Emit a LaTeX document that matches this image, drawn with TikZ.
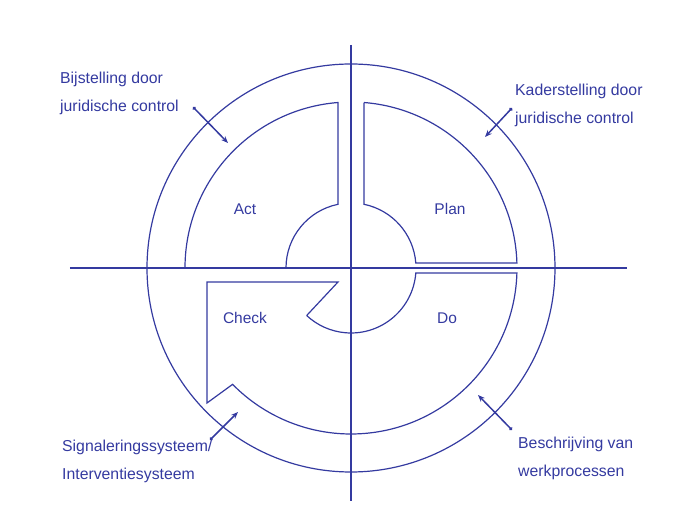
\documentclass[tikz,border=0pt]{standalone}
\usepackage{fontspec}
\setmainfont{Liberation Sans}
\usetikzlibrary{arrows.meta, calc}
\definecolor{ink}{RGB}{52,58,160}

\begin{document}
\begin{tikzpicture}[x=1pt, y=1pt, >=Stealth,
    ring/.style={draw=ink, line width=1.2pt},
    axis/.style={draw=ink, line width=1.7pt},
    note/.style={font=\fontsize{15.8}{28}\selectfont, text=ink, align=left,
                 anchor=north west, inner sep=0pt},
    quad/.style={font=\fontsize{15.5}{17}\selectfont, text=ink},
    pointer/.style={draw=ink, line width=1.5pt,
                    {Circle[length=3.5pt]}-{Stealth[length=7pt, width=5.5pt]}}]
  \useasboundingbox (-351,-250) rectangle (332,268);
  \coordinate (c) at (0,0);

  % Axes
  \draw[axis] (-281,0) -- (276,0);
  \draw[axis] (0,223) -- (0,-233);

  % Outer circle
  \draw[ring] (c) circle[radius=204];

  % Act
  \draw[ring] (180:166) arc[start angle=180, end angle=94.5, radius=166]
    -- (101.5:65) arc[start angle=101.5, end angle=180, radius=65];

  % Plan
  \draw[ring] (85.5:166) -- (78.5:65) arc[start angle=78.5, end angle=4.4, radius=65]
    -- (1.7:166) arc[start angle=1.7, end angle=85.5, radius=166];

  % Do
  \draw[ring] (-90:166) arc[start angle=-90, end angle=-1.7, radius=166]
    -- (-4.4:65) arc[start angle=-4.4, end angle=-133, radius=65];

  % Check
  \draw[ring] (-133:65) -- (-13,-14) -- (-144,-14) -- (-144,-135)
    -- (-135.5:166) arc[start angle=-135.5, end angle=-90, radius=166];

  % Quadrant labels
  \node[quad] (act) at (-106,59) {Act};
  \node[quad] (plan) at (99,59) {Plan};
  \node[quad] (check) at (-106,-50) {Check};
  \node[quad] (do) at (96,-50) {Do};

  % Notes
  \node[note] (bijst) at (-291,196) {Bijstelling door\\juridische control};
  \node[note] (kader) at (164,184) {Kaderstelling door\\juridische control};
  \node[note] (signal) at (-289,-172) {Signaleringssysteem/\\Interventiesysteem};
  \node[note] (beschr) at (167,-169) {Beschrijving van\\werkprocessen};

  \coordinate (bijstTail) at (-158,161);
  \coordinate (bijstHead) at (-123,125);
  \coordinate (kaderTail) at (161,160);
  \coordinate (kaderHead) at (134,131);
  \coordinate (signalTail) at (-141,-172);
  \coordinate (signalHead) at (-113,-144);
  \coordinate (beschrTail) at (161,-162);
  \coordinate (beschrHead) at (127,-127);

  \draw[pointer] (bijstTail) -- (bijstHead);
  \draw[pointer] (kaderTail) -- (kaderHead);
  \draw[pointer] (signalTail) -- (signalHead);
  \draw[pointer] (beschrTail) -- (beschrHead);
\end{tikzpicture}
\end{document}
